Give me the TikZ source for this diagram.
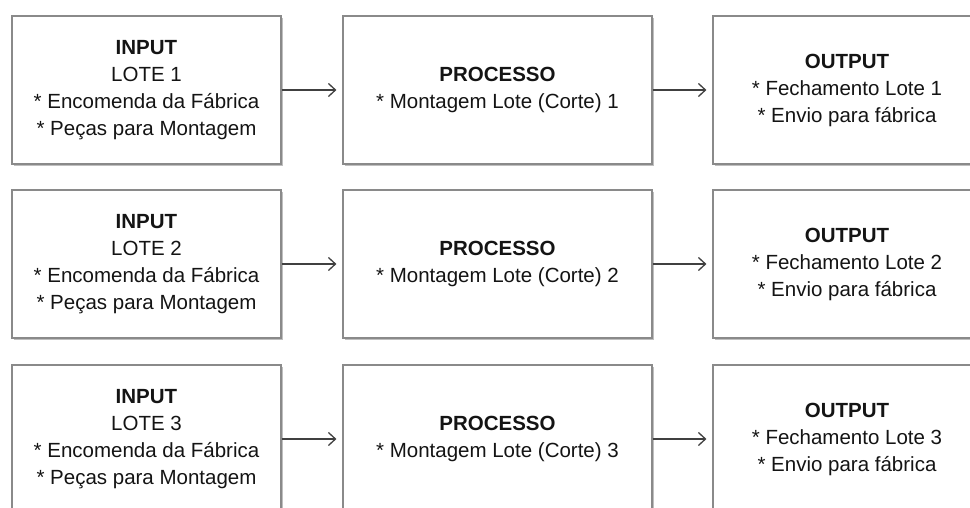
\documentclass[tikz,border=0pt]{standalone}
\usepackage{fontspec}
\setmainfont{Liberation Sans}
\usetikzlibrary{shadows,arrows.meta}
\definecolor{boxline}{HTML}{8A8A8A}
\definecolor{arrowcol}{HTML}{404040}
\definecolor{txt}{HTML}{141414}
\begin{document}
\begin{tikzpicture}[x=1pt,y=1pt,
  box/.style={draw=boxline, line width=1.2pt, fill=white, inner sep=0pt,
    minimum height=148pt, align=center, text=txt,
    font=\fontsize{20.5}{27}\selectfont,
    drop shadow={shadow xshift=1.5pt, shadow yshift=-1.8pt, opacity=0.45, fill=black!55}},
  flow/.style={draw=arrowcol, line width=1.3pt, -{Straight Barb[length=7pt,width=13pt,line width=1.3pt]}}]
\clip (0,0) rectangle (970,-508);
\fill[white] (0,0) rectangle (970,-508);
\foreach \n/\yc in {1/-90,2/-264,3/-439}{
  \node[box, minimum width=269pt] (in\n) at (146.5,\yc)
    {\textbf{INPUT}\\LOTE \n\\* Encomenda da Fábrica\\* Peças para Montagem};
  \node[box, minimum width=309pt] (pr\n) at (497.5,\yc)
    {\textbf{PROCESSO}\\* Montagem Lote (Corte) \n};
  \node[box, minimum width=268pt] (out\n) at (847,\yc)
    {\textbf{OUTPUT}\\* Fechamento Lote \n\\* Envio para fábrica};
  \draw[flow] (in\n.east) -- ([xshift=-6pt]pr\n.west);
  \draw[flow] (pr\n.east) -- ([xshift=-6pt]out\n.west);
}
\end{tikzpicture}
\end{document}
